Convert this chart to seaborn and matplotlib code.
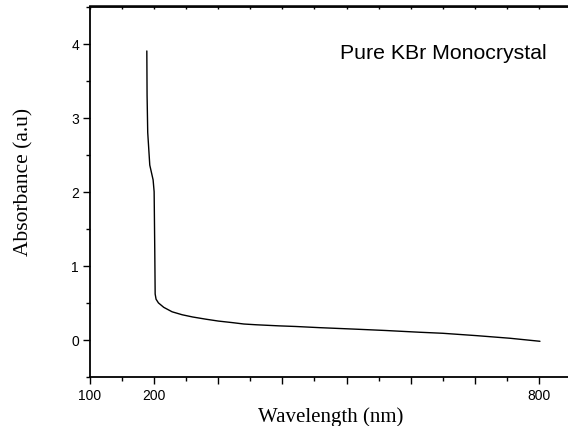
import matplotlib
matplotlib.use("Agg")
import matplotlib.pyplot as plt
import seaborn as sns
import pandas as pd
from matplotlib.ticker import MultipleLocator, FixedLocator, NullFormatter

wavelength = [188.6, 189.0, 190.0, 193.2, 198.4, 200.0, 201.0, 201.6, 203.0,
              206.7, 215.0, 228.0, 243.7, 260.0, 280.8, 300.0, 321.9, 340.0,
              358.9, 395.0, 420.0, 457.8, 515.6, 560.0, 614.0, 650.0, 703.0,
              754.7, 801.6]
absorbance = [3.90, 3.30, 2.80, 2.36, 2.16, 2.00, 1.20, 0.62, 0.55,
              0.50, 0.44, 0.38, 0.34, 0.31, 0.28, 0.255, 0.234, 0.215,
              0.205, 0.19, 0.182, 0.166, 0.145, 0.128, 0.104, 0.09, 0.058,
              0.023, -0.018]
x_ticks = [100, 200, 300, 400, 500, 600, 700, 800]
x_tick_labels = ["100", "200", "", "", "", "", "", "800"]
y_ticks = [0, 1, 2, 3, 4]
annotation = "Pure KBr Monocrystal"

df = pd.DataFrame({"Wavelength": wavelength, "Absorbance": absorbance})

sns.set_theme(style="white")
plt.rcParams["font.family"] = ["Liberation Sans", "DejaVu Sans"]

fig = plt.figure(figsize=(5.68, 4.27), dpi=100)
ax = fig.add_axes([90 / 568, 1 - 378 / 427, 481 / 568, (378 - 7.5) / 427])

sns.lineplot(data=df, x="Wavelength", y="Absorbance", ax=ax, color="black",
             linewidth=1.0, estimator=None, sort=False)

ax.set_xlim(100, 850)
ax.set_ylim(-0.5, 4.5)
ax.xaxis.set_major_locator(FixedLocator(x_ticks))
ax.set_xticklabels(x_tick_labels)
ax.xaxis.set_minor_locator(MultipleLocator(50))
ax.yaxis.set_major_locator(FixedLocator(y_ticks))
ax.yaxis.set_minor_locator(MultipleLocator(0.5))

for s in ["left", "bottom", "top"]:
    ax.spines[s].set_visible(True)
    ax.spines[s].set_color("black")
    ax.spines[s].set_linewidth(1.3)
ax.spines["right"].set_visible(False)

ax.tick_params(axis="both", which="major", direction="out", length=5, width=1.0,
               colors="black", labelsize=10, pad=3)
ax.tick_params(axis="both", which="minor", direction="out", length=3, width=1.0,
               colors="black")
ax.tick_params(axis="x", which="both", bottom=True, top=False)
ax.tick_params(axis="y", which="both", left=True, right=False)

# small inward ticks along the top edge
top = ax.secondary_xaxis("top")
top.xaxis.set_major_locator(MultipleLocator(50))
top.xaxis.set_major_formatter(NullFormatter())
top.tick_params(axis="x", which="both", direction="in", length=2, width=1.0,
                colors="black")
top.spines["top"].set_linewidth(1.3)

ax.set_xlabel("Wavelength (nm)", family=["Liberation Serif", "DejaVu Serif"],
              fontsize=15, color="black", labelpad=3)
ax.set_ylabel("Absorbance (a.u)", family=["Liberation Serif", "DejaVu Serif"],
              fontsize=15.5, color="black", labelpad=27)
ax.yaxis.label.set_y(0.53)

ax.text(0.52, 0.877, annotation, transform=ax.transAxes, fontsize=15.3,
        color="black", ha="left", va="center")

fig.savefig("out.png", dpi=100)
